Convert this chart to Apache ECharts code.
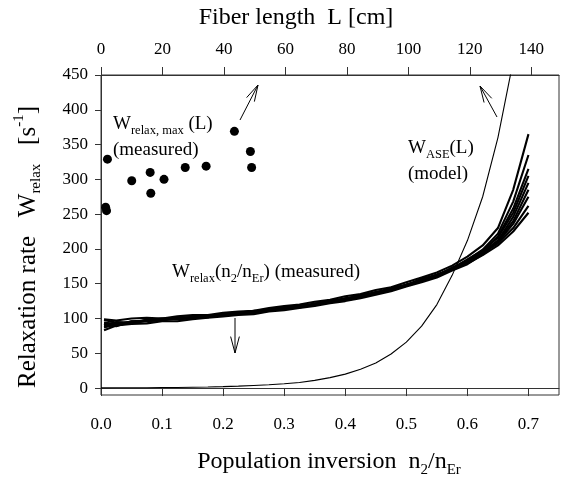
<!DOCTYPE html>
<html>
<head>
<meta charset="utf-8">
<title>Relaxation rate</title>
<script src="https://cdn.jsdelivr.net/npm/echarts@6/dist/echarts.min.js"></script>
<style>
  html, body { margin: 0; padding: 0; background: #fff; }
  #main { width: 565px; height: 481px; }
</style>
</head>
<body>
<div id="main"></div>
<script>
// n2/nEr grid shared by all measured curves
var nGrid = [0.005, 0.025, 0.05, 0.075, 0.1, 0.125, 0.15, 0.175, 0.2, 0.225, 0.25, 0.275, 0.3, 0.325, 0.35,
  0.375, 0.4, 0.425, 0.45, 0.475, 0.5, 0.525, 0.55, 0.575, 0.6, 0.625, 0.65, 0.675, 0.7];

// W_relax(n2/nEr), one array per measured fiber
var wRelaxA = [99, 97, 100, 101, 100, 103, 105, 105, 108, 110, 111, 115, 118, 120, 124, 127, 132, 135, 141, 145, 152, 159, 166, 176, 189, 205, 230, 285, 365];
var wRelaxB = [90, 95, 94, 98, 100, 99, 102, 105, 104, 108, 111, 111, 114, 119, 120, 126, 128, 134, 137, 144, 148, 157, 163, 171, 184, 199, 222, 268, 335];
var wRelaxC = [88, 91, 96, 96, 99, 101, 100, 104, 106, 106, 110, 113, 115, 116, 122, 123, 129, 131, 138, 141, 149, 154, 161, 173, 182, 197, 218, 258, 315];
var wRelaxD = [94, 92, 93, 97, 98, 102, 101, 102, 105, 108, 109, 112, 117, 117, 119, 124, 127, 133, 136, 143, 147, 155, 163, 172, 185, 198, 216, 252, 305];
var wRelaxE = [83, 90, 92, 93, 96, 96, 99, 101, 103, 105, 106, 110, 112, 115, 118, 122, 125, 129, 134, 139, 146, 152, 159, 169, 178, 192, 212, 246, 295];
var wRelaxF = [91, 89, 96, 97, 97, 100, 102, 104, 104, 106, 110, 111, 116, 116, 120, 123, 129, 132, 136, 141, 147, 156, 161, 173, 183, 196, 212, 240, 285];
var wRelaxG = [98, 94, 93, 98, 99, 99, 100, 103, 106, 108, 109, 113, 115, 119, 119, 124, 127, 132, 138, 142, 148, 154, 163, 170, 180, 193, 210, 236, 275];
var wRelaxH = [87, 92, 95, 96, 98, 101, 102, 102, 105, 107, 110, 112, 114, 117, 121, 126, 128, 133, 137, 141, 147, 156, 162, 172, 182, 194, 208, 230, 262];
var wRelaxI = [93, 90, 94, 97, 100, 100, 101, 104, 104, 107, 108, 111, 116, 118, 120, 123, 127, 131, 136, 143, 148, 155, 161, 171, 179, 191, 205, 225, 252];

// W_ASE model curve
var modelN = [0, 0.025, 0.05, 0.075, 0.1, 0.125, 0.15, 0.175, 0.2, 0.225, 0.25, 0.275, 0.3, 0.325,
  0.35, 0.375, 0.4, 0.425, 0.45, 0.475, 0.5, 0.525, 0.55, 0.575, 0.6, 0.625, 0.65, 0.675];
var modelW = [0.3, 0.35, 0.4, 0.5, 0.7, 0.8, 1.2, 1.5, 2.1, 2.8, 3.7, 4.7, 6.1, 8,
  11, 15, 20, 27, 36, 49, 66, 89, 120, 162, 212, 275, 360, 470];

// W_relax,max vs fiber length (top axis)
var fiberL = [1.5, 1.8, 2.1, 10.0, 16.0, 16.2, 20.5, 27.4, 34.2, 43.4, 48.6, 49.0];
var wMax = [260, 255, 329, 298, 310, 280, 300, 317, 319, 369, 340, 317];

// axis ticks
var yTicks = [0, 50, 100, 150, 200, 250, 300, 350, 400, 450];

var FONT = '"Liberation Serif", "DejaVu Serif", serif';

function pairs(xs, ys) {
  return xs.map(function (x, i) { return [x, ys[i]]; });
}

// open arrow head like the hand drawn ones
function arrow(x1, y1, x2, y2) {
  var a = Math.atan2(y2 - y1, x2 - x1);
  var len = 17, spread = 0.26;
  var p1 = [x2 - len * Math.cos(a - spread), y2 - len * Math.sin(a - spread)];
  var p2 = [x2 - len * Math.cos(a + spread), y2 - len * Math.sin(a + spread)];
  var st = {stroke: '#000', lineWidth: 1, fill: null};
  return {
    type: 'group',
    children: [
      {type: 'line', shape: {x1: x1, y1: y1, x2: x2, y2: y2}, style: st},
      {type: 'polyline', shape: {points: [p1, [x2, y2], p2]}, style: st}
    ]
  };
}

var rich = {
  b: {fontFamily: FONT, fontSize: 19, color: '#000', lineHeight: 26},
  sub: {fontFamily: FONT, fontSize: 12.5, color: '#000', verticalAlign: 'bottom', padding: [12, 0, 0, 0]},
  t: {fontFamily: FONT, fontSize: 24, color: '#000', lineHeight: 32},
  tsub: {fontFamily: FONT, fontSize: 15, color: '#000', verticalAlign: 'bottom', padding: [14, 0, 0, 0]},
  y: {fontFamily: FONT, fontSize: 25, color: '#000', lineHeight: 32},
  ysub: {fontFamily: FONT, fontSize: 15, color: '#000', verticalAlign: 'bottom', padding: [14, 0, 0, 0]},
  ysup: {fontFamily: FONT, fontSize: 15, color: '#000', verticalAlign: 'top', padding: [0, 0, 14, 0]}
};

function label(x, y, text, align) {
  return {
    type: 'text', x: x, y: y,
    style: {text: text, rich: rich, align: align || 'left', verticalAlign: 'middle'}
  };
}

var measured = [wRelaxA, wRelaxB, wRelaxC, wRelaxD, wRelaxE, wRelaxF, wRelaxG, wRelaxH, wRelaxI];
var series = measured.map(function (w) {
  return {
    type: 'line',
    data: pairs(nGrid, w),
    showSymbol: false,
    lineStyle: {color: '#000', width: 2.1},
    silent: true
  };
});
series.push({
  type: 'line',
  data: pairs(modelN, modelW),
  showSymbol: false,
  lineStyle: {color: '#000', width: 1.1},
  silent: true
});
series.push({
  type: 'scatter',
  xAxisIndex: 1,
  data: pairs(fiberL, wMax),
  symbolSize: 9,
  itemStyle: {color: '#000', opacity: 1}
});

var axisFont = {fontFamily: FONT, fontSize: 17, color: '#000'};

var option = {
  animation: false,
  backgroundColor: '#fff',
  grid: {left: 101, right: 6, top: 75, bottom: 86, show: true, borderColor: '#333', borderWidth: 1},
  xAxis: [
    {
      type: 'value', position: 'bottom', min: 0, max: 0.75, interval: 0.1,
      axisLine: {lineStyle: {color: '#333'}},
      axisTick: {length: 8, lineStyle: {color: '#333'}},
      axisLabel: Object.assign({margin: 21, showMaxLabel: false, formatter: function (v) { return v.toFixed(1); }}, axisFont),
      splitLine: {show: false}
    },
    {
      type: 'value', position: 'top', min: 0, max: 149, interval: 20,
      axisLine: {lineStyle: {color: '#333'}},
      axisTick: {length: 8, lineStyle: {color: '#333'}},
      axisLabel: Object.assign({margin: 17, showMaxLabel: false}, axisFont),
      splitLine: {show: false}
    }
  ],
  yAxis: {
    type: 'value', min: -10, max: 450,
    axisLine: {show: true, lineStyle: {color: '#333'}},
    axisTick: {show: true, length: 6, customValues: yTicks, lineStyle: {color: '#333'}},
    axisLabel: Object.assign({margin: 13, customValues: yTicks}, axisFont),
    splitLine: {show: false}
  },
  graphic: [
    label(296, 18, '{t|Fiber length  L [cm]}', 'center'),
    label(329, 462, '{t|Population inversion  n}{tsub|2}{t|/n}{tsub|Er}', 'center'),
    {
      type: 'text', x: 28, y: 247, rotation: Math.PI / 2,
      style: {text: '{y|Relaxation rate   W}{ysub|relax}{y|   [s}{ysup|-1}{y|]}', rich: rich, align: 'center', verticalAlign: 'middle'}
    },
    label(113, 124, '{b|W}{sub|relax, max}{b| (L)}'),
    label(113, 150, '{b|(measured)}'),
    label(408, 148, '{b|W}{sub|ASE}{b|(L)}'),
    label(408, 174, '{b|(model)}'),
    label(172, 272, '{b|W}{sub|relax}{b|(n}{sub|2}{b|/n}{sub|Er}{b|) (measured)}'),
    arrow(240, 120, 258, 85),
    arrow(235, 318, 235, 353),
    arrow(497, 117, 480, 86)
  ],
  series: series
};

var myChart = echarts.init(document.getElementById('main'));
myChart.setOption(option);
</script>
</body>
</html>
